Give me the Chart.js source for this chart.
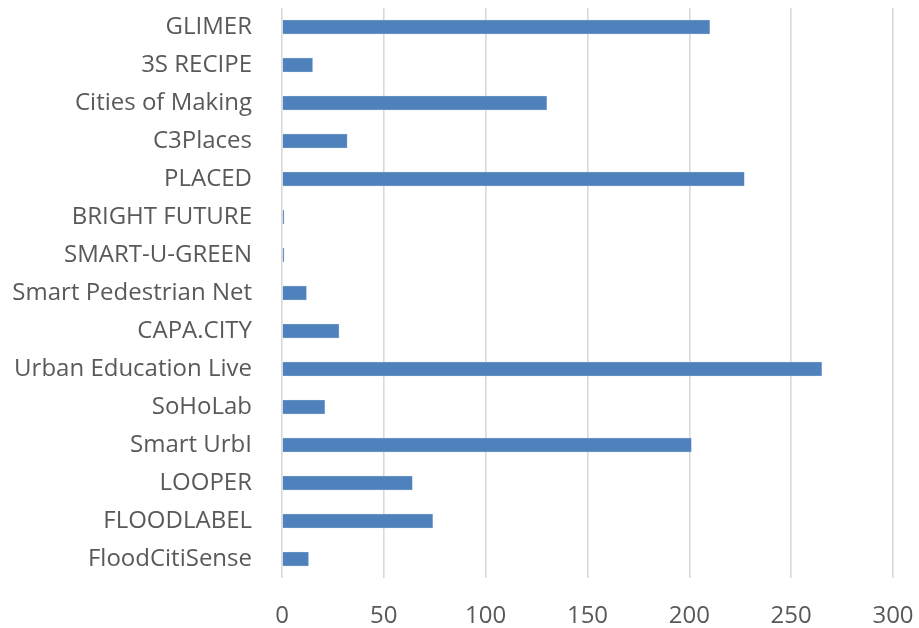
<!DOCTYPE html>
<html>
<head>
<meta charset="utf-8">
<script src="https://cdn.jsdelivr.net/npm/chart.js@4/dist/chart.umd.min.js"></script>
<style>
  html, body { margin: 0; padding: 0; background: #fff; }
  #wrap { width: 919px; height: 628px; }
</style>
</head>
<body>
<div id="wrap"><canvas id="grafico"></canvas></div>
<script>
const projects = [
    'GLIMER', '3S RECIPE', 'Cities of Making', 'C3Places', 'PLACED',
    'BRIGHT FUTURE', 'SMART-U-GREEN', 'Smart Pedestrian Net', 'CAPA.CITY',
    'Urban Education Live', 'SoHoLab', 'Smart UrbI', 'LOOPER', 'FLOODLABEL',
    'FloodCitiSense'
];
const counts = [210, 15, 130, 32, 227, 1, 1, 12, 28, 265, 21, 201, 64, 74, 13];
const xTicks = [0, 50, 100, 150, 200, 250, 300];

const ctx = document.getElementById('grafico').getContext('2d');
new Chart(ctx, {
    type: 'bar',
    data: {
        labels: projects,
        datasets: [{
            data: counts,
            backgroundColor: '#4f81bd',
            borderColor: '#a9c1e0',
            borderWidth: 0.6,
            barThickness: 14
        }]
    },
    options: {
        indexAxis: 'y',
        responsive: true,
        maintainAspectRatio: false,
        animation: false,
        layout: { padding: { top: 8, right: 26, bottom: 0, left: 0 } },
        plugins: { legend: { display: false }, tooltip: { enabled: false } },
        scales: {
            x: {
                min: xTicks[0],
                max: xTicks[xTicks.length - 1],
                afterBuildTicks: (s) => { s.ticks = xTicks.map(v => ({ value: v })); },
                afterFit: (s) => {
                    s.height = 50;
                    s.paddingLeft = 0;
                    s.paddingRight = 0;
                },
                grid: { color: '#d9d9d9', lineWidth: 1.6, drawTicks: false },
                border: { display: false },
                ticks: {
                    padding: 24,
                    color: '#595959',
                    font: { family: 'Open Sans', size: 24 }
                }
            },
            y: {
                afterFit: (s) => {
                    s.width = 282;
                    s.paddingTop = 0;
                    s.paddingBottom = 0;
                },
                grid: { display: false },
                border: { display: false },
                ticks: {
                    padding: 22,
                    color: '#595959',
                    autoSkip: false,
                    font: { family: 'Open Sans', size: 24 }
                }
            }
        }
    }
});
</script>
</body>
</html>
